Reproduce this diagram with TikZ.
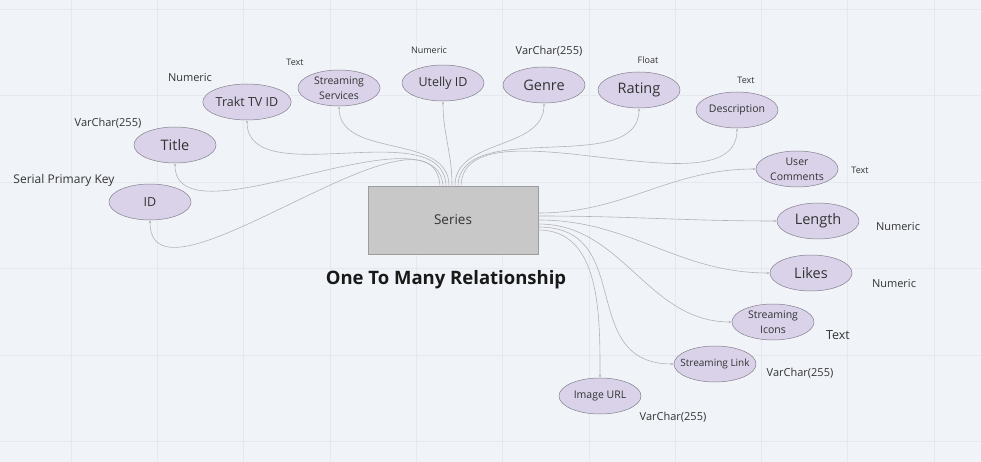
\documentclass[tikz,border=0pt]{standalone}
\usepackage{fontspec}
\setmainfont{Open Sans}
\usetikzlibrary{shapes.geometric, arrows.meta}
\definecolor{bg}{HTML}{F0F3F7}
\definecolor{gridc}{HTML}{E5E8ED}
\definecolor{attrfill}{HTML}{D9D2E9}
\definecolor{attrdraw}{HTML}{85808E}
\definecolor{boxfill}{HTML}{C8C8C8}
\definecolor{boxdraw}{HTML}{9C9C9C}
\definecolor{connc}{HTML}{B4B4B8}
\definecolor{txt}{HTML}{333333}

\begin{document}
\begin{tikzpicture}[x=1pt, y=-1pt,
    attr/.style={ellipse, draw=attrdraw, line width=0.5pt, fill=attrfill, text=txt,
        minimum width=82pt, minimum height=36pt, inner sep=0pt, align=center},
    big/.style={font=\fontsize{14.5}{16}\selectfont},
    mid/.style={font=\fontsize{12.5}{14}\selectfont},
    small/.style={font=\fontsize{10.5}{15}\selectfont},
    type/.style={text=txt, inner sep=0pt},
    conn/.style={draw=connc, line width=0.6pt, -{Stealth[length=3pt, width=2.4pt]}}]
    % background and grid
    \useasboundingbox (0,0) rectangle (981,462);
    \fill[bg] (0,0) rectangle (981,462);
    \foreach \gx in {71,157.3,...,981} \draw[gridc, line width=0.5pt] (\gx,0) -- (\gx,462);
    \foreach \gy in {9,95.5,...,462} \draw[gridc, line width=0.5pt] (0,\gy) -- (981,\gy);

    % entity
    \node[draw=boxdraw, line width=0.8pt, fill=boxfill, minimum width=170pt, minimum height=68pt,
        text=txt, font=\fontsize{13.5}{16}\selectfont] (series) at (453,220) {Series};
    \node[font=\fontsize{18.5}{22}\selectfont\bfseries, text=black!90] (caption) at (446,280) {One To Many Relationship};

    % attributes
    \node[attr, mid] (id) at (150,202) {ID};
    \node[attr, big] (title) at (175,145) {Title};
    \node[attr, mid] (trakt) at (247,102) {Trakt TV ID};
    \node[attr, small] (services) at (339,88) {Streaming\\Services};
    \node[attr, mid] (utelly) at (443,83) {Utelly ID};
    \node[attr, big] (genre) at (544,85) {Genre};
    \node[attr, big] (rating) at (639,90) {Rating};
    \node[attr, small] (descr) at (737,110) {Description};
    \node[attr, small] (comments) at (797,169) {User\\Comments};
    \node[attr, big] (length) at (818,221) {Length};
    \node[attr, big] (likes) at (811,273) {Likes};
    \node[attr, small] (icons) at (773,322) {Streaming\\Icons};
    \node[attr, font=\fontsize{10}{12}\selectfont, inner xsep=-7pt] (slink) at (715,364) {Streaming Link};
    \node[attr, small] (image) at (600,396) {Image URL};

    % data types
    \node[type, font=\fontsize{12}{14}\selectfont] (idtype) at (64,180) {Serial Primary Key};
    \node[type, font=\fontsize{11}{13}\selectfont] (titletype) at (108,123) {VarChar(255)};
    \node[type, font=\fontsize{11}{13}\selectfont] (trakttype) at (190,78) {Numeric};
    \node[type, font=\fontsize{9}{11}\selectfont] (servicestype) at (295,62) {Text};
    \node[type, font=\fontsize{9}{11}\selectfont] (utellytype) at (429,50) {Numeric};
    \node[type, font=\fontsize{11}{13}\selectfont] (genretype) at (549,51) {VarChar(255)};
    \node[type, font=\fontsize{9}{11}\selectfont] (ratingtype) at (648,60) {Float};
    \node[type, font=\fontsize{9}{11}\selectfont] (descrtype) at (746,80) {Text};
    \node[type, font=\fontsize{9}{11}\selectfont] (commentstype) at (860,170) {Text};
    \node[type, font=\fontsize{11}{13}\selectfont] (lengthtype) at (898,227) {Numeric};
    \node[type, font=\fontsize{11}{13}\selectfont] (likestype) at (894,284) {Numeric};
    \node[type, font=\fontsize{12.5}{14}\selectfont] (iconstype) at (838,335) {Text};
    \node[type, font=\fontsize{11}{13}\selectfont] (slinktype) at (800,373) {VarChar(255)};
    \node[type, font=\fontsize{11}{13}\selectfont] (imagetype) at (673,417) {VarChar(255)};

    % connectors
    \draw[conn] ([xshift=-13pt]series.north) to[out=95, in=-90, looseness=0.9] (id.south);
    \draw[conn] ([xshift=-10pt]series.north) to[out=95, in=-90, looseness=0.8] (title.south);
    \draw[conn] ([xshift=-7pt]series.north) to[out=92, in=-90, looseness=0.9] (trakt.south);
    \draw[conn] ([xshift=-4pt]series.north) to[out=90, in=-90] (services.south);
    \draw[conn] ([xshift=-1pt]series.north) to[out=90, in=-90] (utelly.south);
    \draw[conn] ([xshift=2pt]series.north) to[out=90, in=-90] (genre.south);
    \draw[conn] ([xshift=5pt]series.north) to[out=88, in=-90, looseness=0.9] (rating.south);
    \draw[conn] ([xshift=8pt]series.north) to[out=88, in=-90, looseness=0.8] (descr.south);
    \draw[conn] ([yshift=7pt]series.east) to[out=0, in=180] (comments.west);
    \draw[conn] ([yshift=4pt]series.east) to[out=0, in=180] (length.west);
    \draw[conn] ([yshift=0pt]series.east) to[out=0, in=180] (likes.west);
    \draw[conn] ([yshift=-4pt]series.east) to[out=0, in=180] (icons.west);
    \draw[conn] ([yshift=-7pt]series.east) to[out=0, in=180, looseness=1.3] (slink.west);
    \draw[conn] ([yshift=-10pt]series.east) to[out=0, in=90] (image.north);
\end{tikzpicture}
\end{document}
